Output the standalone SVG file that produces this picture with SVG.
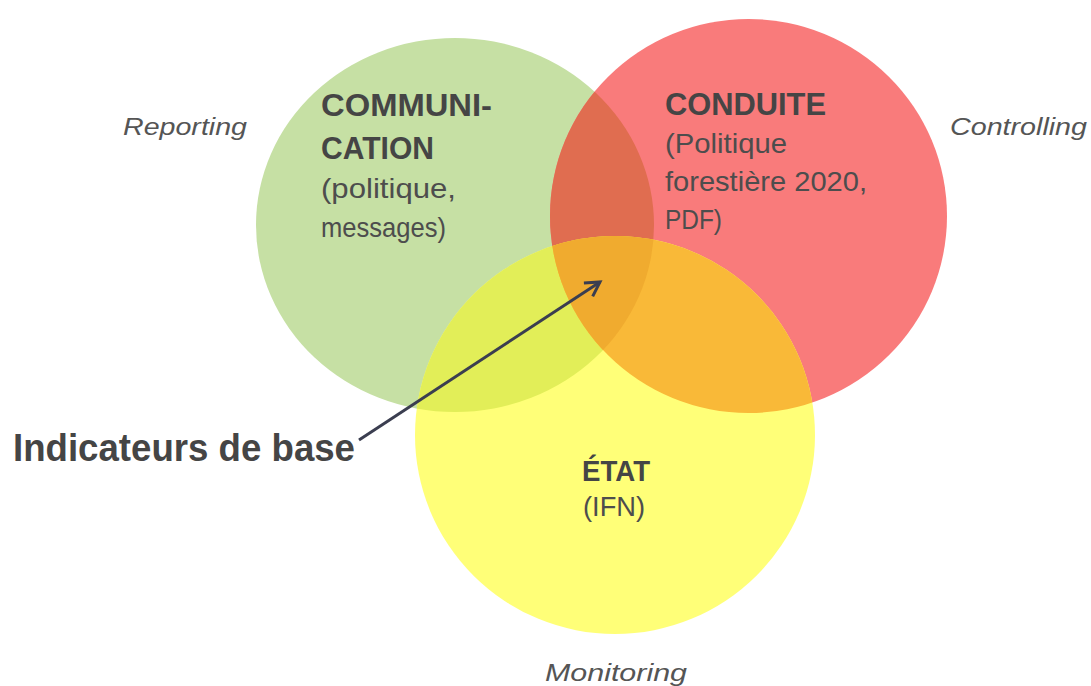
<svg xmlns="http://www.w3.org/2000/svg" width="1091" height="686" viewBox="0 0 1091 686">
<style>
.t{font-family:"Liberation Sans",Arial,sans-serif;fill:#4d4d4d}
.b{font-weight:bold;fill:#454545}
.i{font-style:italic;fill:#555}
</style>
<defs>
<clipPath id="cg"><ellipse cx="455" cy="225" rx="199" ry="187"/></clipPath>
<clipPath id="cr"><ellipse cx="748.5" cy="216" rx="198.5" ry="197"/></clipPath>
<marker id="ah" viewBox="-18 -12 22 24" refX="0" refY="0" markerWidth="22" markerHeight="24" markerUnits="userSpaceOnUse" orient="auto">
<path d="M-14,-8 L0,0 L-14,8" fill="none" stroke="#3b3e50" stroke-width="3" stroke-linejoin="miter"/>
</marker>
</defs>
<rect width="1091" height="686" fill="#ffffff"/>
<g id="communication">
<ellipse cx="455" cy="225" rx="199" ry="187" fill="#c6e0a4"/>
</g>
<g id="conduite">
<ellipse cx="748.5" cy="216" rx="198.5" ry="197" fill="#f97b7b"/>
</g>
<g id="etat">
<ellipse cx="615" cy="435" rx="200" ry="199" fill="#ffff78"/>
</g>
<g id="overlaps">
<g clip-path="url(#cg)"><ellipse cx="748.5" cy="216" rx="198.5" ry="197" fill="#e06d50"/></g>
<g clip-path="url(#cg)"><ellipse cx="615" cy="435" rx="200" ry="199" fill="#e2ee58"/></g>
<g clip-path="url(#cr)"><ellipse cx="615" cy="435" rx="200" ry="199" fill="#f9b938"/></g>
<g clip-path="url(#cr)"><g clip-path="url(#cg)"><ellipse cx="615" cy="435" rx="200" ry="199" fill="#f0ab2f"/></g></g>
</g>
<g id="labels">
<text class="t b" x="321" y="116" font-size="32" textLength="171" lengthAdjust="spacingAndGlyphs">COMMUNI-</text>
<text class="t b" x="321" y="159" font-size="32" textLength="113" lengthAdjust="spacingAndGlyphs">CATION</text>
<text class="t" x="321" y="198" font-size="28" textLength="135" lengthAdjust="spacingAndGlyphs">(politique,</text>
<text class="t" x="321" y="237" font-size="28" textLength="125" lengthAdjust="spacingAndGlyphs">messages)</text>
<text class="t b" x="665" y="115" font-size="32" textLength="161" lengthAdjust="spacingAndGlyphs">CONDUITE</text>
<text class="t" x="665" y="153" font-size="28" textLength="122" lengthAdjust="spacingAndGlyphs">(Politique</text>
<text class="t" x="665" y="191" font-size="28" textLength="202" lengthAdjust="spacingAndGlyphs">forestière 2020,</text>
<text class="t" x="665" y="229" font-size="28" textLength="57" lengthAdjust="spacingAndGlyphs">PDF)</text>
<text class="t b" x="582" y="481" font-size="30" textLength="68" lengthAdjust="spacingAndGlyphs">ÉTAT</text>
<text class="t" x="583" y="516" font-size="28" textLength="62" lengthAdjust="spacingAndGlyphs">(IFN)</text>
<text class="t i" x="123" y="135" font-size="24" textLength="124" lengthAdjust="spacingAndGlyphs">Reporting</text>
<text class="t i" x="950" y="135" font-size="24" textLength="137" lengthAdjust="spacingAndGlyphs">Controlling</text>
<text class="t i" x="545" y="681" font-size="24" textLength="142" lengthAdjust="spacingAndGlyphs">Monitoring</text>
</g>
<g id="indicateurs">
<text class="t b" x="13" y="461" font-size="38" textLength="342" lengthAdjust="spacingAndGlyphs" fill="#505050">Indicateurs de base</text>
</g>
<g id="connectors">
<line x1="359" y1="440" x2="600" y2="282" stroke="#3b3e50" stroke-width="3" marker-end="url(#ah)"/>
</g>
</svg>
